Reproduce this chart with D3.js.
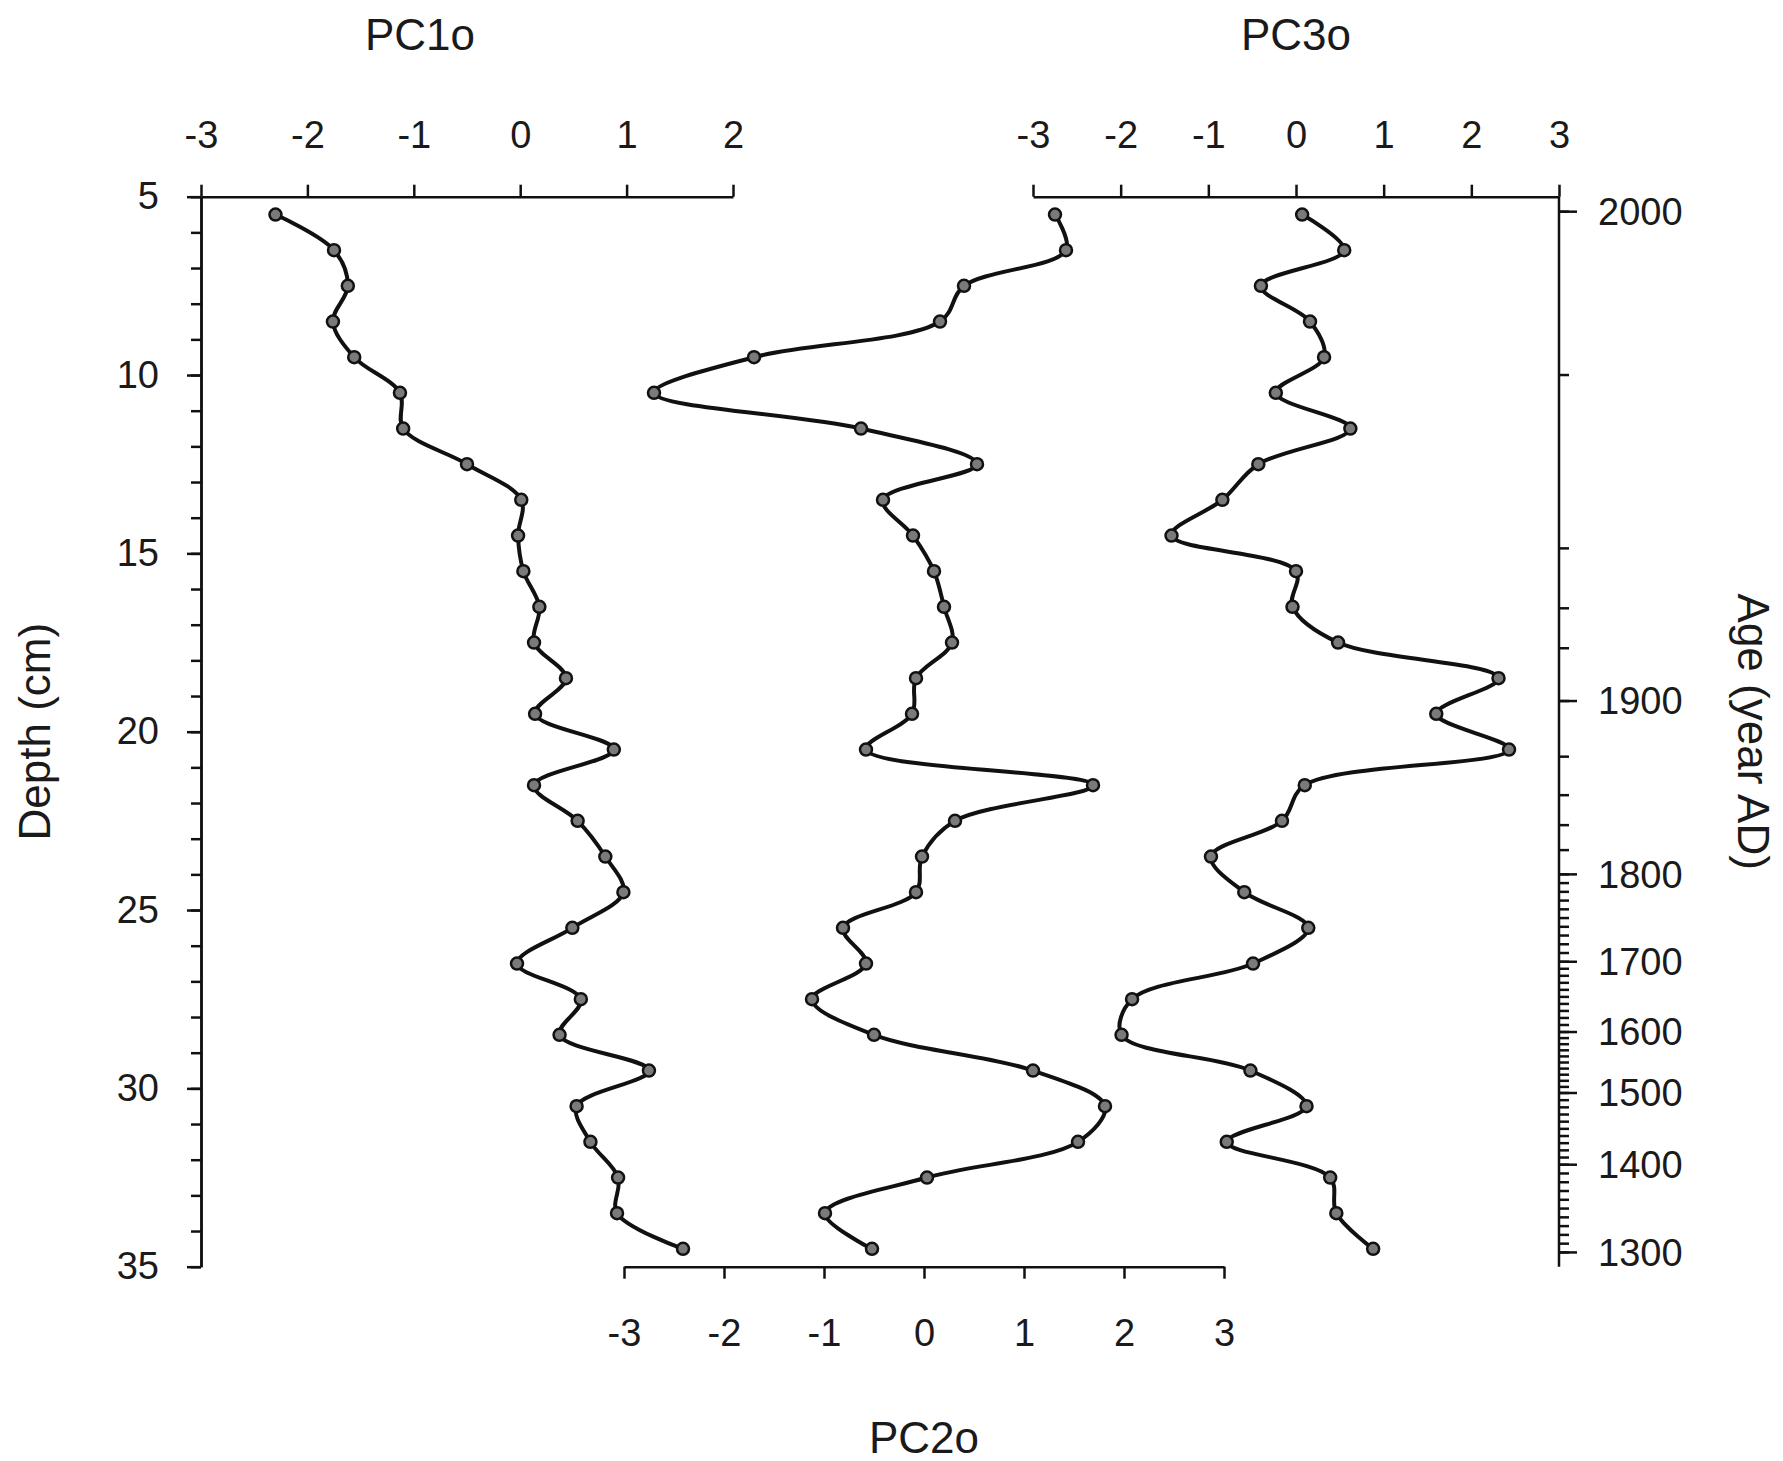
<!DOCTYPE html>
<html>
<head>
<meta charset="utf-8">
<script src="https://cdn.jsdelivr.net/npm/d3@7"></script>
<style>
  body { margin: 0; background: #fff; }
  text { font-family: "Liberation Sans", Arial, sans-serif; fill: #1a1a1a; }
  .axis path, .axis line { stroke: #111; stroke-width: 2.5; }
  .axis text { font-size: 38px; }
  .title { font-size: 44px; }
</style>
</head>
<body>
<div id="chart"></div>
<script>
var width = 1783;
var height = 1461;

// sample depths (cm)
var depths = [5.5, 6.5, 7.5, 8.5, 9.5, 10.5, 11.5, 12.5, 13.5, 14.5,
    15.5, 16.5, 17.5, 18.5, 19.5, 20.5, 21.5, 22.5, 23.5, 24.5,
    25.5, 26.5, 27.5, 28.5, 29.5, 30.5, 31.5, 32.5, 33.5, 34.5];

var pc1 = [-2.30, -1.75, -1.62, -1.76, -1.56, -1.13, -1.10, -0.50, 0.01, -0.02,
    0.03, 0.18, 0.13, 0.43, 0.14, 0.88, 0.13, 0.54, 0.80, 0.97,
    0.49, -0.03, 0.57, 0.37, 1.21, 0.53, 0.66, 0.92, 0.91, 1.53];

var pc2 = [1.31, 1.42, 0.40, 0.16, -1.70, -2.70, -0.63, 0.53, -0.41, -0.11,
    0.10, 0.20, 0.28, -0.08, -0.12, -0.58, 1.69, 0.31, -0.02, -0.08,
    -0.81, -0.58, -1.12, -0.50, 1.09, 1.81, 1.54, 0.03, -0.99, -0.52];

var pc3 = [0.07, 0.55, -0.40, 0.16, 0.32, -0.23, 0.62, -0.43, -0.84, -1.42,
    0.00, -0.04, 0.48, 2.31, 1.60, 2.43, 0.10, -0.16, -0.97, -0.59,
    0.14, -0.49, -1.87, -1.99, -0.52, 0.12, -0.79, 0.39, 0.46, 0.88];

// tick labels
var depthTicks = [5, 10, 15, 20, 25, 30, 35];
var pc1Ticks = [-3, -2, -1, 0, 1, 2];
var pc2Ticks = [-3, -2, -1, 0, 1, 2, 3];
var pc3Ticks = [-3, -2, -1, 0, 1, 2, 3];
var ageTicks = [2000, 1900, 1800, 1700, 1600, 1500, 1400, 1300];

// age model tie points (year AD -> depth cm)
var ageModelYears = [2000, 1980, 1960, 1940, 1920, 1900, 1880, 1860, 1840, 1820, 1800, 1700, 1600, 1500, 1400, 1300];
var ageModelDepths = [5.42, 10.0, 14.86, 16.54, 17.66, 19.14, 20.70, 21.78, 22.62, 23.32, 24.0, 26.45, 28.42, 30.13, 32.14, 34.6];

var fmt = (d) => String(d);

var svg = d3.select('#chart')
    .append('svg')
    .attr('width', width)
    .attr('height', height);

svg.append('rect').attr('width', width).attr('height', height).attr('fill', '#fff');

var y = d3.scaleLinear().domain([5, 35]).range([196.7, 1266.7]);
var x1 = d3.scaleLinear().domain([-3, 2]).range([201, 733]);
var x2 = d3.scaleLinear().domain([-3, 3]).range([624, 1224]);
var x3 = d3.scaleLinear().domain([-3, 3]).range([1033, 1559]);

// age -> depth, piecewise linear
var ageToDepth = d3.scaleLinear().domain(ageModelYears).range(ageModelDepths);

// left depth axis: minor then major
svg.append('g')
    .attr('class', 'axis')
    .attr('transform', `translate(${x1(-3)},0)`)
    .call(d3.axisLeft(y).tickValues(d3.range(5, 36, 1)).tickSize(10).tickSizeOuter(0).tickFormat(''));
svg.append('g')
    .attr('class', 'axis')
    .attr('transform', `translate(${x1(-3)},0)`)
    .call(d3.axisLeft(y).tickValues(depthTicks).tickSize(14).tickSizeOuter(0).tickPadding(28).tickFormat(fmt));

// top PC1o axis
svg.append('g')
    .attr('class', 'axis')
    .attr('transform', `translate(0,${y(5)})`)
    .call(d3.axisTop(x1).tickValues(pc1Ticks).tickSize(12).tickSizeOuter(0).tickPadding(37).tickFormat(fmt));

// top PC3o axis
svg.append('g')
    .attr('class', 'axis')
    .attr('transform', `translate(0,${y(5)})`)
    .call(d3.axisTop(x3).tickValues(pc3Ticks).tickSize(12).tickSizeOuter(0).tickPadding(37).tickFormat(fmt));

// bottom PC2o axis
svg.append('g')
    .attr('class', 'axis')
    .attr('transform', `translate(0,${y(35)})`)
    .call(d3.axisBottom(x2).tickValues(pc2Ticks).tickSize(12).tickSizeOuter(0).tickPadding(40).tickFormat(fmt));

// right age axis
var minorAges = d3.range(2000, 1799, -20).concat(d3.range(1790, 1299, -10));
var ageY = (a) => y(ageToDepth(a));
var rightAxis = svg.append('g').attr('class', 'axis age');
rightAxis.append('line')
    .attr('x1', x3(3)).attr('x2', x3(3))
    .attr('y1', y(5)).attr('y2', y(35));
rightAxis.selectAll('.minor')
    .data(minorAges)
    .enter()
    .append('line')
    .attr('class', 'minor')
    .attr('x1', x3(3)).attr('x2', x3(3) + 10)
    .attr('y1', ageY).attr('y2', ageY);
rightAxis.selectAll('.major')
    .data(ageTicks)
    .enter()
    .append('line')
    .attr('class', 'major')
    .attr('x1', x3(3)).attr('x2', x3(3) + 18)
    .attr('y1', ageY).attr('y2', ageY);
rightAxis.selectAll('text')
    .data(ageTicks)
    .enter()
    .append('text')
    .attr('x', x3(3) + 39)
    .attr('y', ageY)
    .attr('dy', '0.35em')
    .text((d) => d);

// series
var series = [
    { name: 'PC1o', x: x1, values: pc1 },
    { name: 'PC2o', x: x2, values: pc2 },
    { name: 'PC3o', x: x3, values: pc3 },
];

series.forEach(function(s) {
    var pts = depths.map((d, i) => ({ depth: d, v: s.values[i] }));
    var line = d3.line()
        .x((d) => s.x(d.v))
        .y((d) => y(d.depth))
        .curve(d3.curveCatmullRom.alpha(0.5));
    svg.append('path')
        .datum(pts)
        .attr('fill', 'none')
        .attr('stroke', '#111')
        .attr('stroke-width', 4)
        .attr('d', line);
    svg.append('g')
        .selectAll('circle')
        .data(pts)
        .enter()
        .append('circle')
        .attr('cx', (d) => s.x(d.v))
        .attr('cy', (d) => y(d.depth))
        .attr('r', 6)
        .attr('fill', '#7a7a7a')
        .attr('stroke', '#111')
        .attr('stroke-width', 2.5);
});

// titles
svg.append('text').attr('class', 'title')
    .attr('x', 420).attr('y', 50)
    .attr('text-anchor', 'middle').text('PC1o');
svg.append('text').attr('class', 'title')
    .attr('x', x3(0)).attr('y', 50)
    .attr('text-anchor', 'middle').text('PC3o');
svg.append('text').attr('class', 'title')
    .attr('x', x2(0)).attr('y', 1453)
    .attr('text-anchor', 'middle').text('PC2o');
svg.append('text').attr('class', 'title')
    .attr('transform', `translate(50,${y(20)}) rotate(-90)`)
    .attr('text-anchor', 'middle').text('Depth (cm)');
svg.append('text').attr('class', 'title')
    .attr('transform', `translate(1738,${y(20)}) rotate(90)`)
    .attr('text-anchor', 'middle').text('Age (year AD)');
</script>
</body>
</html>
